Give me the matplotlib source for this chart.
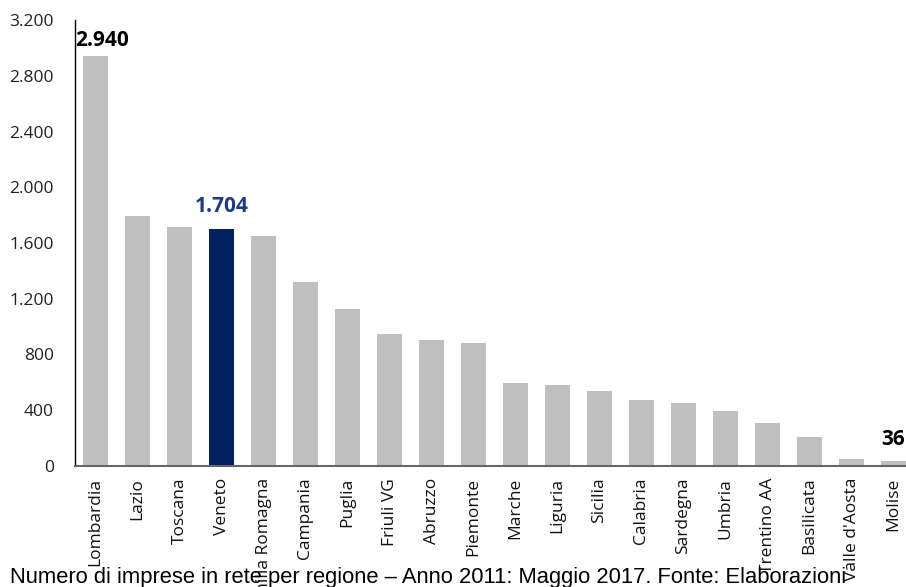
import numpy as np
import matplotlib.pyplot as plt
from matplotlib.ticker import FuncFormatter

# imprese in rete per regione
regioni = ["Lombardia", "Lazio", "Toscana", "Veneto", "Emilia Romagna", "Campania",
           "Puglia", "Friuli VG", "Abruzzo", "Piemonte", "Marche", "Liguria",
           "Sicilia", "Calabria", "Sardegna", "Umbria", "Trentino AA", "Basilicata",
           "Valle d'Aosta", "Molise"]
imprese = [2940, 1795, 1715, 1704, 1652, 1322, 1124, 944, 905, 886,
           597, 581, 541, 472, 452, 398, 308, 207, 49, 36]
evidenza = "Veneto"
etichette = ["Lombardia", "Veneto", "Molise"]
yticks = [0, 400, 800, 1200, 1600, 2000, 2400, 2800, 3200]


def migliaia(v, pos=None):
    return f"{int(v):,}".replace(",", ".")


plt.rcParams['font.family'] = ['Open Sans', 'DejaVu Sans']

fig = plt.figure(figsize=(9.06, 5.87), dpi=100)
ax = fig.add_axes([74.5 / 906, 121 / 587, 840 / 906, 446 / 587])

x = np.arange(len(regioni))
colori = ["#002060" if r == evidenza else "#BFBFBF" for r in regioni]
ax.bar(x, imprese, width=0.6, color=colori, zorder=2)

# spostamento (punti) delle etichette sopra le barre
spost = {"Lombardia": (5, 3.5)}
for r in etichette:
    i = regioni.index(r)
    col = "#1F3A80" if r == evidenza else "black"
    ax.annotate(migliaia(imprese[i]), (x[i], imprese[i]), xytext=spost.get(r, (0, 8)),
                textcoords="offset points", ha="center", va="bottom",
                fontsize=15, fontweight="bold", color=col, annotation_clip=False)

ax.set_xlim(-0.5, len(regioni) - 0.5)
ax.set_ylim(0, 3200)
ax.set_yticks(yticks)
ax.yaxis.set_major_formatter(FuncFormatter(migliaia))
ax.set_xticks(x)
ax.set_xticklabels(regioni, rotation=90)
ax.tick_params(axis="y", length=0, pad=15, labelsize=12.5, colors="#222222")
ax.tick_params(axis="x", length=0, pad=8.5, labelsize=12.5, colors="#111111")

for s in ["top", "right"]:
    ax.spines[s].set_visible(False)
ax.spines["left"].set_color("black")
ax.spines["left"].set_linewidth(1.0)
ax.spines["bottom"].set_color("#666666")
ax.spines["bottom"].set_linewidth(1.5)

fig.text(10 / 906, 4 / 587,
         "Numero di imprese in rete per regione \u2013 Anno 2011: Maggio 2017. Fonte: Elaborazioni",
         fontsize=15.8, family="Liberation Sans", va="baseline", ha="left")

fig.savefig("out.png", dpi=100)
